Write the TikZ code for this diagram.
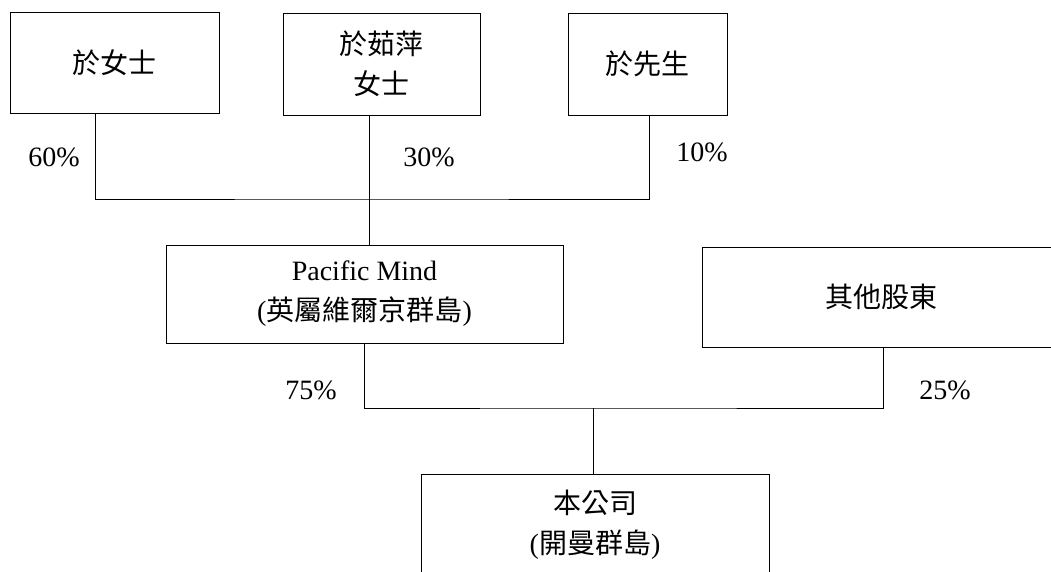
\documentclass[tikz,border=0pt]{standalone}
\usepackage{fontspec}
\setmainfont{Liberation Serif}
\newfontfamily\cjk{Noto Sans CJK TC}
\usetikzlibrary{positioning}

\tikzset{
  holder/.style={draw, line width=0.8pt, inner sep=0pt, align=center,
    font=\fontsize{28}{40}\selectfont},
  pct/.style={inner sep=0pt, font=\fontsize{28}{34}\selectfont},
  link/.style={line width=0.8pt}
}

\begin{document}
\begin{tikzpicture}[x=1pt, y=-1pt]

  \useasboundingbox (0,0) rectangle (1051,571);
  \clip (0,0) rectangle (1051,571);

  %% shareholders
  \node[holder, minimum width=209, minimum height=101] (msYu) at (114.5,62.5) {\cjk 於女士};
  \node[holder, minimum width=197, minimum height=102] (msYuRP) at (381.5,64) {\cjk 於茹萍\\\cjk 女士};
  \node[holder, minimum width=159, minimum height=102] (mrYu) at (647.5,64) {\cjk 於先生};

  \node[holder, minimum width=397, minimum height=98] (pacific) at (364.5,294) {Pacific Mind\\({\cjk 英屬維爾京群島})};
  \node[holder, minimum width=358, minimum height=100] (others) at (881,297) {\cjk 其他股東};

  \node[holder, minimum width=348, minimum height=102] (company) at (595,525) {\cjk 本公司\\({\cjk 開曼群島})};

  %% percentages
  \node[pct] (p60) at (54,157) {60\%};
  \node[pct] (p30) at (429,157) {30\%};
  \node[pct] (p10) at (702,152) {10\%};
  \node[pct] (p75) at (311,390) {75\%};
  \node[pct] (p25) at (945,390) {25\%};

  %% upper bar
  \coordinate (barTop) at (371,199);
  \draw[link] ([xshift=-19.5]msYu.south) |- (barTop) -| ([xshift=1.5]mrYu.south);
  \draw[link] ([xshift=-12.5]msYuRP.south) -- ([xshift=4.5]pacific.north); %% -> Pacific Mind

  %% lower bar
  \coordinate (barLow) at (593,408);
  \draw[link] (pacific.south) |- (barLow) -| ([xshift=2]others.south);
  \draw[link] (barLow) -- ([xshift=-2]company.north); %% -> company

\end{tikzpicture}
\end{document}
